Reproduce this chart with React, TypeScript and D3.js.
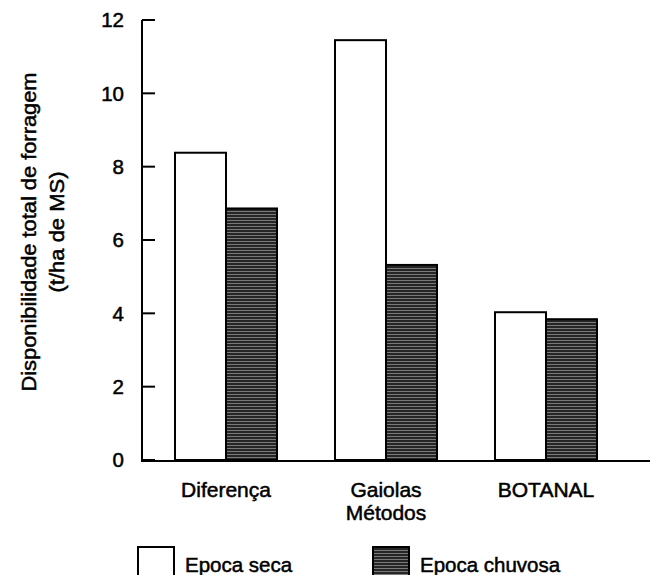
import React from "react";
import * as d3 from "d3";

const methods = ["Diferença", "Gaiolas", "BOTANAL"];
const seasons = ["Epoca seca", "Epoca chuvosa"];
const seca = [8.38, 11.45, 4.03];
const chuvosa = [6.86, 5.32, 3.84];
const yTicks = [0, 2, 4, 6, 8, 10, 12];

const W = 656;
const H = 575;
const font = "'Liberation Sans', Arial, sans-serif";

const App = () => {
  const x = d3
    .scaleBand()
    .domain(methods)
    .range([146, 626])
    .paddingInner(0.3625)
    .paddingOuter(0.18125);
  const xs = d3.scaleBand().domain(seasons).range([0, x.bandwidth()]);
  const y = d3.scaleLinear().domain([0, 12]).range([460, 20]);

  const rows = methods.map((m, i) => ({ m, vals: [seca[i], chuvosa[i]] }));
  const fills = ["#ffffff", "url(#grain)"];

  return (
    <svg
      width={W}
      height={H}
      style={{ position: "absolute", left: 0, top: 0, background: "#fff" }}
      fontFamily={font}
    >
      <defs>
        <pattern id="grain" width="6" height="3" patternUnits="userSpaceOnUse">
          <rect width="6" height="3" fill="#262626" />
          <rect y="1" width="6" height="1" fill="#7a7a7a" />
        </pattern>
      </defs>

      {/* bars */}
      {rows.map((r) => (
        <g key={r.m} transform={`translate(${x(r.m)},0)`}>
          {r.vals.map((v, j) => (
            <rect
              key={j}
              x={xs(seasons[j])}
              y={y(v)}
              width={xs.bandwidth()}
              height={y(0) - y(v)}
              fill={fills[j]}
              stroke="#000"
              strokeWidth={2}
            />
          ))}
        </g>
      ))}

      <g stroke="#000" strokeWidth={0.5}>
        {/* y axis */}
        <line x1={142} x2={142} y1={y(12)} y2={y(0)} strokeWidth={2} />
        {yTicks.map((t) => (
          <g key={t}>
            <line x1={142} x2={155} y1={y(t)} y2={y(t)} strokeWidth={2} />
            <text x={124} y={y(t)} dy="0.36em" textAnchor="end" fontSize={20.5}>
              {t}
            </text>
          </g>
        ))}

        {/* x axis */}
        <line x1={141} x2={650} y1={y(0) + 1} y2={y(0) + 1} strokeWidth={2} />
        {methods.map((m) => (
          <text
            key={m}
            x={(x(m) as number) + x.bandwidth() / 2}
            y={497}
            textAnchor="middle"
            fontSize={21}
          >
            {m}
          </text>
        ))}
        <text x={(x("Gaiolas") as number) + x.bandwidth() / 2} y={520} textAnchor="middle" fontSize={21}>
          Métodos
        </text>

        {/* y title */}
        <text
          transform="translate(36,232) rotate(-90)"
          textAnchor="middle"
          fontSize={20}
          textLength={319}
          lengthAdjust="spacingAndGlyphs"
        >
          Disponibilidade total de forragem
        </text>
        <text
          transform="translate(64,232) rotate(-90)"
          textAnchor="middle"
          fontSize={20}
          textLength={121}
          lengthAdjust="spacingAndGlyphs"
        >
          (t/ha de MS)
        </text>

        {/* legend */}
        {seasons.map((s, i) => {
          const lx = [138, 373][i];
          return (
            <g key={s}>
              <rect x={lx} y={547} width={36} height={32} fill={fills[i]} strokeWidth={2} />
              <text x={lx + 47} y={572} fontSize={20.5}>
                {s}
              </text>
            </g>
          );
        })}
      </g>
    </svg>
  );
};

export default App;
